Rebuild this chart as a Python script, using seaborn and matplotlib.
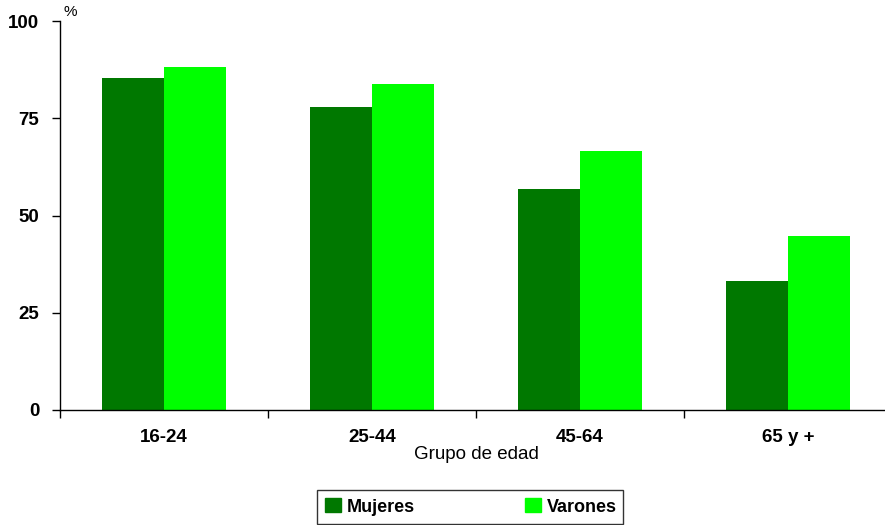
import numpy as np
import pandas as pd
import seaborn as sns
import matplotlib.pyplot as plt
from matplotlib.patches import Patch

## Data
grupos = ["16-24", "25-44", "45-64", "65 y +"]
mujeres = [85.3, 77.9, 56.8, 33.2]
varones = [88.2, 83.8, 66.6, 44.7]
sexos = ["Mujeres", "Varones"]
colores = ["#007800", "#00FF00"]

df = pd.DataFrame({
    "Grupo": grupos * 2,
    "Sexo": ["Mujeres"] * len(grupos) + ["Varones"] * len(grupos),
    "Valor": mujeres + varones,
})

sns.set_style("white")
plt.rcParams["font.family"] = ["Liberation Sans", "DejaVu Sans"]
plt.rcParams["text.color"] = "black"
plt.rcParams["axes.labelcolor"] = "black"
plt.rcParams["xtick.color"] = "black"
plt.rcParams["ytick.color"] = "black"

fig = plt.figure(figsize=(8.85, 5.25), dpi=100)
ax = fig.add_axes([60 / 885, 115 / 525, 832 / 885, 389 / 525])

sns.barplot(data=df, x="Grupo", y="Valor", hue="Sexo", palette=colores,
            width=0.6, gap=0, saturation=1, errorbar=None, legend=False,
            linewidth=0, ax=ax)

ax.set_xlim(-0.5, 3.5)
ax.set_ylim(0, 100)
ax.set_yticks([0, 25, 50, 75, 100])
ax.set_yticklabels(["0", "25", "50", "75", "100"], fontsize=13.5, fontweight="bold")
ax.set_xticks(range(len(grupos)))
ax.set_xticklabels(grupos, fontsize=13.5, fontweight="bold")
ax.set_xticks(np.arange(-0.5, 4, 1), minor=True)
ax.tick_params(axis="x", which="major", bottom=True, length=0, pad=14)
ax.tick_params(axis="x", which="minor", bottom=True, length=6, width=1,
               color="black", direction="out")
ax.tick_params(axis="y", left=True, length=6, width=1, color="black",
               direction="out", pad=9)

for s in ["top", "right"]:
    ax.spines[s].set_visible(False)
for s in ["left", "bottom"]:
    ax.spines[s].set_color("black")
    ax.spines[s].set_linewidth(1)

ax.set_xlabel("Grupo de edad", fontsize=13.5, labelpad=0)
ax.set_ylabel("")
ax.text(0.004, 100.5, "%", transform=ax.get_yaxis_transform(), fontsize=11,
        ha="left", va="bottom")

handles = [Patch(facecolor=c, edgecolor=c) for c in colores]
leg = fig.legend(handles, sexos, loc="center", bbox_to_anchor=(470 / 885, 1 - 507 / 525),
                 ncol=2, frameon=True, fancybox=False, edgecolor="black",
                 prop={"weight": "bold", "size": 13}, handlelength=0.9, handleheight=0.8,
                 columnspacing=6.2, handletextpad=0.2, borderpad=0.45, borderaxespad=0)
leg.get_frame().set_linewidth(1)
for t in leg.get_texts():
    t.set_x(2)

fig.savefig("out.png", dpi=100)
